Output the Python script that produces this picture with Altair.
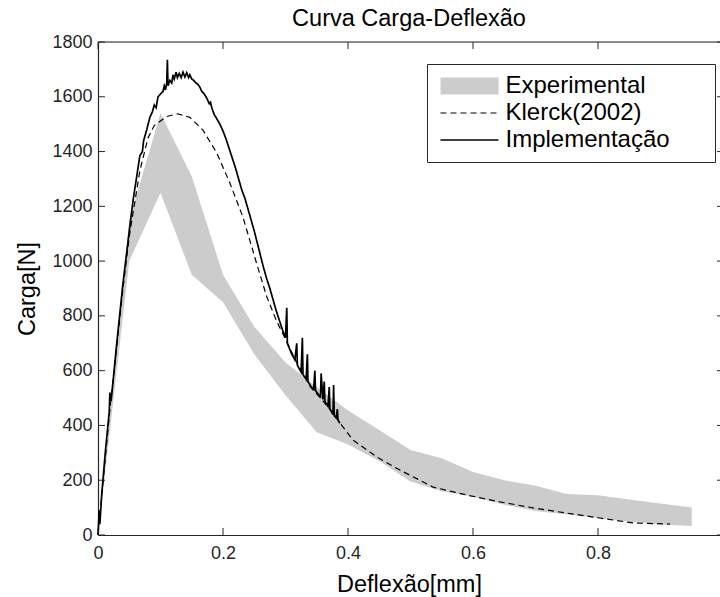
import altair as alt
import pandas as pd

# ---------------- data ----------------
exp_x = [0, 0.05, 0.1, 0.15, 0.2, 0.25, 0.3, 0.35, 0.4, 0.45, 0.5, 0.55, 0.6, 0.65, 0.7, 0.75, 0.8, 0.85, 0.9, 0.95]
exp_upper = [0, 1150, 1540, 1310, 950, 760, 630, 540, 455, 383, 310, 280, 230, 200, 180, 150, 145, 130, 115, 100]
exp_lower = [0, 1000, 1250, 950, 850, 660, 510, 375, 330, 270, 195, 160, 140, 110, 88, 75, 62, 48, 38, 33]

klerck_x = [0, 0.02, 0.04, 0.05, 0.067, 0.08, 0.09, 0.11, 0.127, 0.147, 0.168, 0.19, 0.211, 0.232,
            0.254, 0.27, 0.286, 0.3, 0.32, 0.34, 0.36, 0.38, 0.39, 0.408, 0.446, 0.483, 0.515, 0.536,
            0.59, 0.643, 0.696, 0.75, 0.803, 0.856, 0.915]
klerck_y = [0, 480, 900, 1090, 1330, 1450, 1495, 1528, 1538, 1525, 1478, 1395, 1285, 1160,
            990, 870, 780, 715, 620, 540, 490, 432, 400, 347, 285, 237, 200, 175,
            146, 121, 99, 80, 62, 44, 40]

impl_x = [0, 0.002, 0.003, 0.006, 0.012, 0.018, 0.019, 0.021, 0.03, 0.04, 0.05, 0.056, 0.062, 0.067,
          0.071, 0.073, 0.078, 0.083, 0.087, 0.09, 0.093, 0.096, 0.1, 0.104, 0.106, 0.108, 0.11, 0.111,
          0.112, 0.115, 0.118, 0.12, 0.122, 0.125, 0.127, 0.13, 0.133, 0.136, 0.139, 0.142, 0.145, 0.147,
          0.15, 0.153, 0.157, 0.16, 0.163, 0.166, 0.17, 0.174, 0.178, 0.18, 0.182, 0.186, 0.19, 0.195,
          0.2, 0.205, 0.21, 0.215, 0.22, 0.225, 0.23, 0.235, 0.24, 0.245, 0.25, 0.255, 0.26, 0.265,
          0.27, 0.275, 0.28, 0.285, 0.29, 0.295, 0.3, 0.302, 0.303, 0.31, 0.315, 0.318, 0.319, 0.325,
          0.327, 0.328, 0.333, 0.335, 0.336, 0.34, 0.345, 0.347, 0.348, 0.352, 0.356, 0.357, 0.36,
          0.362, 0.363, 0.368, 0.37, 0.371, 0.376, 0.377, 0.378, 0.381, 0.383, 0.384, 0.387]
impl_y = [0, 90, 40, 150, 310, 450, 520, 490, 700, 920, 1110, 1220, 1310, 1385,
          1400, 1440, 1480, 1525, 1545, 1570, 1560, 1600, 1610, 1620, 1640, 1625, 1650, 1735,
          1640, 1660, 1650, 1680, 1665, 1690, 1670, 1685, 1670, 1690, 1672, 1688, 1670, 1680,
          1665, 1660, 1650, 1645, 1635, 1620, 1610, 1595, 1575, 1580, 1560, 1535, 1520, 1500,
          1475, 1445, 1410, 1375, 1340, 1300, 1260, 1230, 1190, 1150, 1110, 1065, 1020, 975,
          935, 900, 860, 820, 785, 750, 720, 830, 700, 660, 640, 700, 620, 595,
          720, 585, 570, 660, 560, 545, 532, 600, 528, 515, 505, 590, 495,
          560, 488, 470, 540, 462, 440, 548, 436, 428, 460, 420, 408]

x_ticks = [0, 0.2, 0.4, 0.6, 0.8]
y_ticks = [0, 200, 400, 600, 800, 1000, 1200, 1400, 1600, 1800]
series = ["Experimental", "Klerck(2002)", "Implementação"]

# ---------------- layout ----------------
W, H = 622, 493
FONT = "Liberation Sans"
AX = "#262626"

xscale = alt.Scale(domain=[0, 0.9952], nice=False, zero=False)
yscale = alt.Scale(domain=[0, 1800], nice=False, zero=False)

xaxis = alt.Axis(values=x_ticks, format="~g", title="Deflexão[mm]", labelPadding=9, titlePadding=10)
yaxis = alt.Axis(values=y_ticks, format="d", title="Carga[N]", labelPadding=6, titlePadding=12)

exp_df = pd.DataFrame({"x": exp_x, "upper": exp_upper, "lower": exp_lower})
band = alt.Chart(exp_df).mark_area(color="#cccccc", opacity=1).encode(
    x=alt.X("x:Q", scale=xscale, axis=xaxis),
    y=alt.Y("upper:Q", scale=yscale, axis=yaxis),
    y2="lower:Q",
)

rows = []
for i, (xv, yv) in enumerate(zip(klerck_x, klerck_y)):
    rows.append({"serie": series[1], "x": xv, "y": yv, "order": i})
for i, (xv, yv) in enumerate(zip(impl_x, impl_y)):
    rows.append({"serie": series[2], "x": xv, "y": yv, "order": i})
lines_df = pd.DataFrame(rows)

# the legend "title" is a blank placed on the right: it only widens the box (MATLAB style)
leg = alt.Legend(title=" ", titleOrient="right", titlePadding=35, titleFontSize=10,
                 orient="none", legendX=329, legendY=22,
                 symbolType="M-9.67,0H9.67", symbolSize=36, labelFontSize=24,
                 labelFont=FONT, labelColor="#000", strokeColor=AX, fillColor="white",
                 padding=10, rowPadding=3, clipHeight=24, symbolOffset=20.5, labelOffset=24,
                 labelLimit=400)

lines = alt.Chart(lines_df).mark_line().encode(
    x=alt.X("x:Q", scale=xscale, axis=xaxis),
    y=alt.Y("y:Q", scale=yscale, axis=yaxis),
    color=alt.Color("serie:N", scale=alt.Scale(domain=series, range=["#cccccc", "#000000", "#000000"]), legend=leg),
    strokeDash=alt.StrokeDash("serie:N", scale=alt.Scale(domain=series, range=[[1, 0], [6, 4], [1, 0]]), legend=leg),
    strokeWidth=alt.StrokeWidth("serie:N", scale=alt.Scale(type="ordinal", domain=series, range=[17, 1.2, 1.7]), legend=leg),
    order="order:Q",
)

xt = pd.DataFrame({"v": x_ticks})
yt = pd.DataFrame({"v": y_ticks})
one = pd.DataFrame({"v": [0]})

bottom_ticks = alt.Chart(xt).mark_rule(color=AX, strokeWidth=1).encode(
    x=alt.X("v:Q", scale=xscale, axis=xaxis), y=alt.value(H), y2=alt.value(H - 7))
top_ticks = alt.Chart(xt).mark_rule(color=AX, strokeWidth=1).encode(
    x=alt.X("v:Q", scale=xscale, axis=xaxis), y=alt.value(0), y2=alt.value(7))
left_ticks = alt.Chart(yt).mark_rule(color=AX, strokeWidth=1).encode(
    y=alt.Y("v:Q", scale=yscale, axis=yaxis), x=alt.value(0), x2=alt.value(7))
right_ticks = alt.Chart(yt).mark_rule(color=AX, strokeWidth=1).encode(
    y=alt.Y("v:Q", scale=yscale, axis=yaxis), x=alt.value(W - 3), x2=alt.value(W))
top_line = alt.Chart(one).mark_rule(color=AX, strokeWidth=1.2).encode(
    x=alt.value(0), x2=alt.value(W), y=alt.value(0))

chart = alt.layer(band, lines, bottom_ticks, top_ticks, left_ticks, right_ticks, top_line).properties(
    width=W, height=H,
    title=alt.TitleParams("Curva Carga-Deflexão", fontSize=23.5, fontWeight="normal",
                          font=FONT, color="#000", offset=3, anchor="middle"),
    autosize=alt.AutoSizeParams(type="none"),
    padding={"left": 98, "top": 42, "right": 0, "bottom": 62},
).configure_view(stroke=None).configure(font=FONT, background="white").configure_axis(
    grid=False, ticks=False, domain=True, domainColor=AX, domainWidth=1.2,
    labelFontSize=18, labelColor=AX, labelFont=FONT, labelFlush=False,
    titleFontSize=23.5, titleFontWeight="normal", titleFont=FONT, titleColor="#000",
)

chart.save("out.html", embed_options={"renderer": "svg", "actions": False})
